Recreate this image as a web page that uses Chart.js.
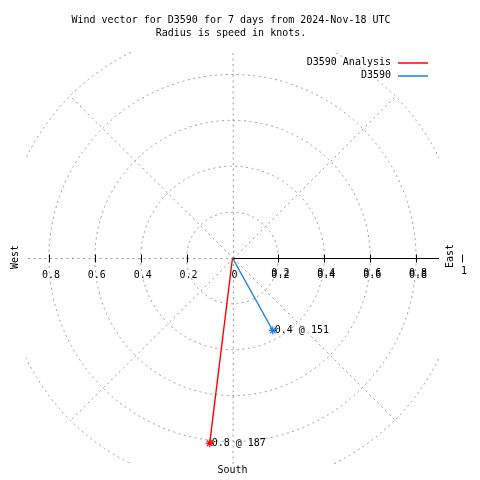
<!DOCTYPE html>
<html>
<head>
<meta charset="utf-8">
<script src="https://cdn.jsdelivr.net/npm/chart.js@4/dist/chart.umd.min.js"></script>
<style>
html,body{margin:0;padding:0;background:#fff;}
canvas{display:block;}
</style>
</head>
<body>
<canvas id="c" width="480" height="480"></canvas>
<script>
// ---- data ----
const titleLines = ["Wind vector for D3590 for 7 days from 2024-Nov-18 UTC", "Radius is speed in knots."];
const seriesNames = ["D3590 Analysis", "D3590"];
const seriesColors = ["#ff0000", "#1a7ee0"];
const speeds = [0.815, 0.362];        // knots
const directions = [187, 151];        // degrees (bearing)
const gridRadii = [0.2, 0.4, 0.6, 0.8, 1.0];
const spokeAngles = [0, 45, 90, 135, 180, 225, 270, 315];
const tickValues = [0.2, 0.4, 0.6, 0.8];
const tickLabels = ["0.2", "0.4", "0.6", "0.8"];
const axisMax = 0.9;

const FONT = '10px "DejaVu Sans Mono", "Liberation Mono", monospace';

function vec(s, d) {
  const a = d * Math.PI / 180;
  return { x: s * Math.sin(a), y: s * Math.cos(a) };
}

// text drawn slightly taller, like the bitmap font of the original
function txt(ctx, s, x, y, align, rot) {
  ctx.save();
  ctx.translate(x, y);
  if (rot) ctx.rotate(rot);
  ctx.scale(1, 1.1);
  ctx.font = FONT;
  ctx.fillStyle = '#000';
  ctx.textAlign = align || 'center';
  ctx.textBaseline = 'middle';
  ctx.fillText(s, 0, 0);
  ctx.restore();
}

const datasets = seriesNames.map((name, i) => {
  const end = vec(speeds[i], directions[i]);
  return {
    label: name,
    data: [{ x: 0, y: 0 }, end],
    showLine: true,
    borderColor: seriesColors[i],
    backgroundColor: seriesColors[i],
    borderWidth: 1.4,
    pointStyle: 'star',
    pointRadius: [0, 4],
    pointBorderWidth: 1.2,
    pointBorderColor: seriesColors[i],
    tension: 0
  };
});

const polarPlugin = {
  id: 'polarPlugin',
  beforeDatasetsDraw(chart) {
    const { ctx, chartArea: a, scales: { x, y } } = chart;
    const cx = x.getPixelForValue(0), cy = y.getPixelForValue(0);
    ctx.save();
    ctx.beginPath();
    ctx.rect(a.left, a.top, a.right - a.left, a.bottom - a.top);
    ctx.clip();
    ctx.strokeStyle = '#999999';
    ctx.lineWidth = 1;
    ctx.setLineDash([2, 3.5]);
    gridRadii.forEach(r => {
      const rp = x.getPixelForValue(r) - cx;
      ctx.beginPath();
      ctx.arc(cx, cy, rp, 0, Math.PI * 2);
      ctx.stroke();
    });
    const R = gridRadii[gridRadii.length - 1];
    spokeAngles.forEach(ang => {
      const p = vec(R, ang);
      ctx.beginPath();
      ctx.moveTo(Math.round(cx) + 0.5, Math.round(cy) + 0.5);
      ctx.lineTo(x.getPixelForValue(p.x) + 0.5, y.getPixelForValue(p.y) + 0.5);
      ctx.stroke();
    });
    ctx.restore();

    // solid axis (east)
    ctx.save();
    const ay = Math.round(cy) + 0.5;
    ctx.strokeStyle = '#000';
    ctx.lineWidth = 1;
    ctx.beginPath();
    ctx.moveTo(cx, ay);
    ctx.lineTo(x.getPixelForValue(axisMax), ay);
    ctx.stroke();
    // ticks
    const drawTick = v => {
      const px = Math.round(x.getPixelForValue(v)) + 0.5;
      ctx.beginPath();
      ctx.moveTo(px, ay - 4);
      ctx.lineTo(px, ay + 4);
      ctx.stroke();
    };
    tickValues.forEach(v => { drawTick(v); drawTick(-v); });
    drawTick(1.0);
    ctx.restore();

    const ly = 275;
    tickValues.forEach((v, i) => {
      txt(ctx, tickLabels[i], x.getPixelForValue(-v) + 2, ly);
      const pr = x.getPixelForValue(v) + 2;
      txt(ctx, tickLabels[i], pr, ly);
      txt(ctx, tickLabels[i], pr, ly - 2);
    });
    txt(ctx, "0", cx + 2, ly);
    txt(ctx, "1", x.getPixelForValue(1.0) + 2, 271);

    // direction labels
    txt(ctx, "South", cx, 470);
    txt(ctx, "West", 15, 257, 'center', -Math.PI / 2);
    txt(ctx, "East", 450, 256, 'center', -Math.PI / 2);
  },
  afterDatasetsDraw(chart) {
    chart.data.datasets.forEach((ds, i) => {
      const meta = chart.getDatasetMeta(i);
      const pt = meta.data[meta.data.length - 1];
      const lbl = speeds[i].toFixed(1) + " @ " + directions[i];
      txt(chart.ctx, lbl, pt.x + 2, pt.y, 'left');
    });
  },
  afterDraw(chart) {
    const { ctx } = chart;
    txt(ctx, titleLines[0], 231, 20);
    txt(ctx, titleLines[1], 231, 33);
    // legend
    seriesNames.forEach((n, i) => {
      const yy = 62.5 + i * 13;
      txt(ctx, n, 391, yy, 'right');
      ctx.save();
      ctx.strokeStyle = seriesColors[i];
      ctx.lineWidth = 1.5;
      ctx.beginPath();
      ctx.moveTo(398, Math.round(yy));
      ctx.lineTo(428, Math.round(yy));
      ctx.stroke();
      ctx.restore();
    });
  }
};

new Chart(document.getElementById('c'), {
  type: 'scatter',
  data: { datasets },
  options: {
    responsive: false,
    animation: false,
    layout: { padding: { left: 26, right: 41, top: 52, bottom: 16 } },
    plugins: { legend: { display: false }, tooltip: { enabled: false }, title: { display: false } },
    scales: {
      x: { type: 'linear', min: -axisMax, max: axisMax, display: false },
      y: { type: 'linear', min: -axisMax, max: axisMax, display: false }
    },
    elements: { line: { borderCapStyle: 'butt' } }
  },
  plugins: [polarPlugin]
});
</script>
</body>
</html>
